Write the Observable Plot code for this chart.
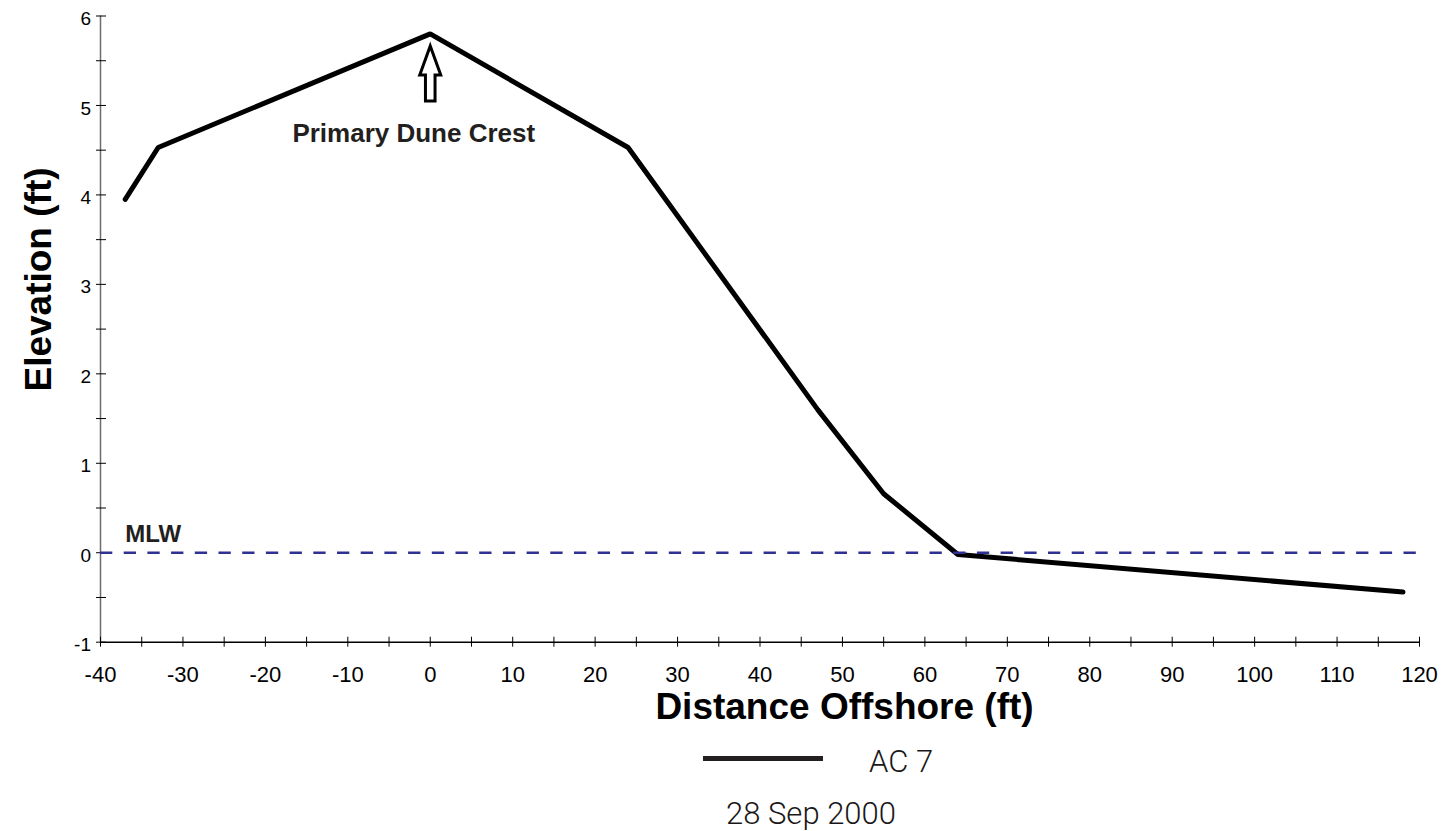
<!DOCTYPE html>
<html>
<head>
<meta charset="utf-8">
<script src="https://cdn.jsdelivr.net/npm/d3@7"></script>
<script src="https://cdn.jsdelivr.net/npm/@observablehq/plot@0.6"></script>
<style>
  html, body { margin: 0; padding: 0; background: #fff; }
  body { width: 1444px; height: 831px; position: relative; overflow: hidden; font-family: "Liberation Sans", Arial, sans-serif; }
  #chart { position: absolute; left: 0; top: 0; }
  #chart g[aria-label="y-axis tick label"] { font-size: 19px; }
  #chart g[aria-label="x-axis tick label"] { font-size: 22px; }
  #legend-swatch { position: absolute; left: 703px; top: 756px; width: 120px; height: 5px; background: #231f20; }
  #legend-label { position: absolute; left: 869px; top: 746px; font-family: Roboto, "Liberation Sans", sans-serif; font-weight: 300; font-size: 31px; line-height: 31px; color: #1a1718; white-space: nowrap; }
  #caption { position: absolute; left: 811px; top: 798px; transform: translateX(-50%); font-family: Roboto, "Liberation Sans", sans-serif; font-weight: 300; font-size: 31px; line-height: 31px; color: #1a1718; white-space: nowrap; }
</style>
</head>
<body>
<div id="chart"></div>
<div id="legend-swatch"></div>
<div id="legend-label"></div>
<div id="caption"></div>
<script>
// ---- data ----
const distance = [-37, -33, 0, 24, 47, 55, 64, 118];
const elevation = [3.95, 4.53, 5.8, 4.53, 1.6, 0.66, -0.02, -0.44];
const seriesName = "AC 7";
const surveyDate = "28 Sep 2000";
const mlwLevel = [0];

const xMajorTicks = [-40, -30, -20, -10, 0, 10, 20, 30, 40, 50, 60, 70, 80, 90, 100, 110, 120];
const xMinorTicks = [-40, -35, -30, -25, -20, -15, -10, -5, 0, 5, 10, 15, 20, 25, 30, 35, 40, 45, 50, 55, 60, 65, 70, 75, 80, 85, 90, 95, 100, 105, 110, 115, 120];
const yMajorTicks = [-1, 0, 1, 2, 3, 4, 5, 6];
const yMinorTicks = [-1, -0.5, 0, 0.5, 1, 1.5, 2, 2.5, 3, 3.5, 4, 4.5, 5, 5.5, 6];

const xTitle = "Distance Offshore (ft)";
const yTitle = "Elevation (ft)";

const crestLabel = ["Primary Dune Crest"];
const crestLabelX = [-2];
const crestLabelY = [4.59];
const mlwLabel = ["MLW"];
const mlwLabelX = [-37];
const mlwLabelY = [0.12];

const arrowX = [0];
const arrowY = [5.05];

// ---- tables built from arrays ----
const profile = distance.map((d, i) => ({distance: d, elevation: elevation[i]}));
const crestLabels = crestLabel.map((t, i) => ({text: t, x: crestLabelX[i], y: crestLabelY[i]}));
const mlwLabels = mlwLabel.map((t, i) => ({text: t, x: mlwLabelX[i], y: mlwLabelY[i]}));
const arrows = arrowX.map((x, i) => ({x, y: arrowY[i]}));

const fmt = d => String(d);

// hollow block arrow shape for Plot.vector
const hollowArrow = {
  draw(ctx, l) {
    const headHalf = 10.5, shaftHalf = 4.8, headLen = 29;
    ctx.moveTo(0, -l);
    ctx.lineTo(headHalf, -l + headLen);
    ctx.lineTo(shaftHalf, -l + headLen);
    ctx.lineTo(shaftHalf, 0);
    ctx.lineTo(-shaftHalf, 0);
    ctx.lineTo(-shaftHalf, -l + headLen);
    ctx.lineTo(-headHalf, -l + headLen);
    ctx.closePath();
  }
};

const chart = Plot.plot({
  width: 1444,
  height: 740,
  marginLeft: 100,
  marginRight: 25,
  marginTop: 15.5,
  marginBottom: 98.3,
  style: {fontFamily: '"Liberation Sans", Arial, sans-serif', color: "#000", background: "#fff", overflow: "visible"},
  x: {domain: [-40, 120]},
  y: {domain: [-1, 6]},
  marks: [
    Plot.ruleX([-40], {y1: -1, y2: 6, stroke: "#6d6d6d", strokeWidth: 1.5}),
    Plot.ruleY([-1], {stroke: "#000", strokeWidth: 1.5}),
    Plot.axisY(yMinorTicks, {tickSize: 10, dx: 6, fill: "none", stroke: "#000", label: null}),
    Plot.axisY(yMajorTicks, {tickSize: 0, tickPadding: 9.5, dy: 3, fontSize: 19, tickFormat: fmt, fill: "#000", label: null}),
    Plot.axisX(xMinorTicks, {tickSize: 10, dy: -5, fill: "none", stroke: "#000", label: null}),
    Plot.axisX(xMajorTicks, {tickSize: 0, tickPadding: 24, fontSize: 22, tickFormat: fmt, fill: "#000", label: null}),
    Plot.line(profile, {x: "distance", y: "elevation", stroke: "#000", strokeWidth: 5, strokeLinejoin: "miter", strokeLinecap: "round"}),
    Plot.ruleY(mlwLevel, {stroke: "#2e3192", strokeWidth: 2.5, strokeDasharray: "12.3,11.4"}),
    Plot.vector(arrows, {x: "x", y: "y", length: 55, anchor: "start", rotate: 0, shape: hollowArrow, stroke: "#000", fill: "#fff", strokeWidth: 3, strokeLinejoin: "miter"}),
    Plot.text(crestLabels, {x: "x", y: "y", text: "text", textAnchor: "middle", lineAnchor: "bottom", fontSize: 26, fontWeight: "bold", fill: "#231f20"}),
    Plot.text(mlwLabels, {x: "x", y: "y", text: "text", textAnchor: "start", lineAnchor: "bottom", fontSize: 24, fontWeight: "bold", fill: "#231f20"}),
    Plot.text([xTitle], {frameAnchor: "bottom", textAnchor: "middle", dx: 84.5, dy: 50.7, lineAnchor: "top", fontSize: 37, fontWeight: "bold", fill: "#000"}),
    Plot.text([yTitle], {frameAnchor: "left", textAnchor: "middle", rotate: -90, dx: -61.5, dy: -49.6, fontSize: 37, fontWeight: "bold", fill: "#000"})
  ]
});
document.getElementById("chart").appendChild(chart);
document.getElementById("legend-label").textContent = seriesName;
document.getElementById("caption").textContent = surveyDate;
</script>
</body>
</html>
